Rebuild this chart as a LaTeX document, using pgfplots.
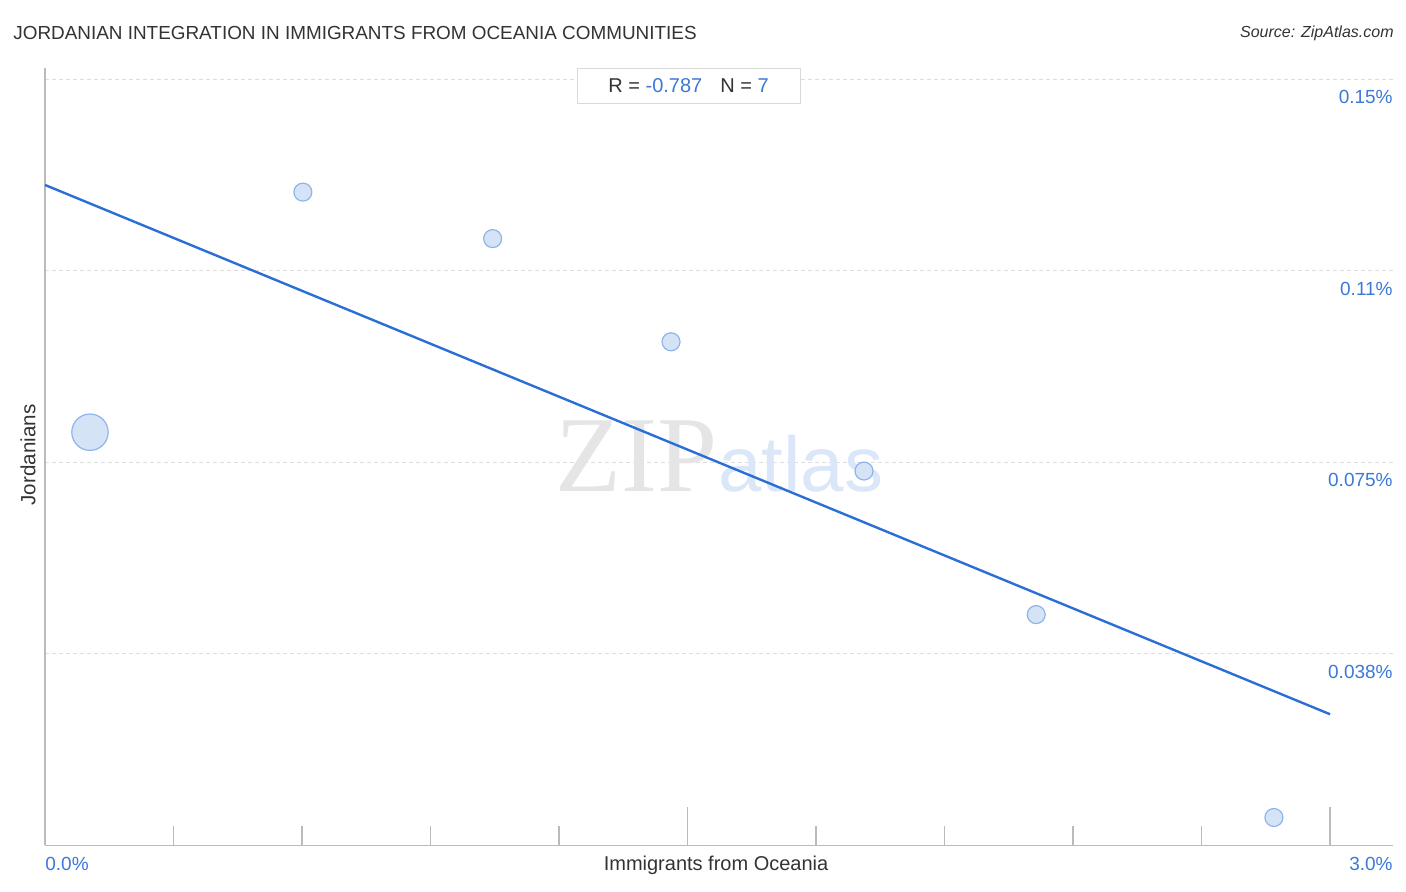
\documentclass[border=0pt]{standalone}
\usepackage{pgfplots}
\pgfplotsset{compat=1.18}
\usepackage{fontspec}
\setmainfont{Liberation Sans}
\newfontfamily\seriffont{Liberation Serif}
\definecolor{titlegray}{HTML}{333333}
\definecolor{tickblue}{HTML}{3C78D8}
\definecolor{lineblue}{HTML}{2B6FD6}
\definecolor{bubblefill}{HTML}{D5E3F7}
\definecolor{bubbleedge}{HTML}{8EB4EA}
\definecolor{gridgray}{HTML}{DDDDDD}
\definecolor{axisgray}{HTML}{BBBBBB}
\pgfplotstableread{
x y
0.105 0.0809
}\bigpts
\pgfplotstableread{
x y
0.602 0.1279
1.045 0.1188
1.4615 0.0986
1.912 0.0733
2.314 0.0452
2.869 0.00548
}\smallpts
\begin{document}
\begin{tikzpicture}
\useasboundingbox (-22.5pt,-23.25pt) rectangle (680.5pt,422.75pt);
\begin{axis}[
  at={(0,0)}, anchor=south west,
  scale only axis, width=674pt, height=388.5pt,
  xmin=0, xmax=3.147, ymin=0, ymax=0.1521,
  axis x line=bottom, axis y line=left,
  axis line style={draw=axisgray, line width=0.6pt, -},
  xtick={0.3,0.6,0.9,1.2,1.8,2.1,2.4,2.7},
  xticklabels={},
  extra x ticks={1.5,3.0},
  extra x tick labels={},
  extra x tick style={major tick length=19pt},
  xtick align=inside,
  major tick length=9.75pt,
  x tick style={draw=axisgray, line width=0.6pt},
  ytick={0.0375,0.075,0.1125,0.15},
  yticklabels={},
  y tick style={draw=none},
  ymajorgrids,
  grid style={dash pattern=on 2pt off 1.5pt, draw=gridgray, line width=0.5pt},
  clip=false,
]
% watermark
\node[anchor=base west, inner sep=0, text=black!10, font=\seriffont\fontsize{54}{54}\selectfont] at (axis cs:1.19,0.0692) {ZIP};
\node[anchor=base west, inner sep=0, text=bubblefill!85, font=\fontsize{39}{39}\selectfont] at (axis cs:1.571,0.0692) {atlas};

\addplot[only marks, mark=*, mark size=9.1pt,
  mark options={draw=bubbleedge, fill=bubblefill, line width=0.6pt}]
  table[x=x, y=y] {\bigpts};
\addplot[only marks, mark=*, mark size=4.5pt,
  mark options={draw=bubbleedge, fill=bubblefill, line width=0.6pt}]
  table[x=x, y=y] {\smallpts};

\addplot[lineblue, line width=1.2pt] coordinates {(0,0.1293) (3.0,0.02569)};

% y tick labels
\foreach \v/\t in {0.15/0.15\%, 0.1125/0.11\%, 0.075/0.075\%, 0.0375/0.038\%}{
  \edef\temp{\noexpand\node[anchor=north east, inner sep=0, yshift=-5.3pt, text=tickblue, font=\noexpand\fontsize{9.5}{11}\noexpand\selectfont] at (axis cs:3.147,\v) {\t};}
  \temp
}
% x tick labels
\node[anchor=north west, inner sep=0, yshift=-5.5pt, text=tickblue, font=\fontsize{9.5}{11}\selectfont] at (rel axis cs:0,0) {0.0\%};
\node[anchor=north east, inner sep=0, yshift=-5.5pt, text=tickblue, font=\fontsize{9.5}{11}\selectfont] at (rel axis cs:1,0) {3.0\%};
% axis labels
\node[anchor=north, inner sep=0, yshift=-5.3pt, text=titlegray, font=\fontsize{10}{12}\selectfont] at (rel axis cs:0.4978,0) {Immigrants from Oceania};
\node[rotate=90, inner sep=0, yshift=8.5pt, text=titlegray, font=\fontsize{10.3}{12}\selectfont] at (rel axis cs:0,0.5026) {Jordanians};
% title and source
\node[anchor=west, inner sep=0, xshift=-16pt, yshift=17.75pt, text=titlegray, font=\fontsize{9.45}{11}\selectfont] at (rel axis cs:0,1) {JORDANIAN INTEGRATION IN IMMIGRANTS FROM OCEANIA COMMUNITIES};
\node[anchor=east, inner sep=0, xshift=0.5pt, yshift=17.75pt, text=titlegray, font=\itshape\fontsize{8}{10}\selectfont] at (rel axis cs:1,1) {Source: ZipAtlas.com};
% R / N box
\node[draw=gray!30, fill=white, line width=0.5pt, minimum width=111.5pt, minimum height=17.5pt, inner sep=0, text=titlegray, font=\fontsize{10}{12}\selectfont] at (rel axis cs:0.4774,0.978) {R = \textcolor{tickblue}{-0.787}\hspace{9pt}N = \textcolor{tickblue}{7}};
\end{axis}
\end{tikzpicture}
\end{document}
